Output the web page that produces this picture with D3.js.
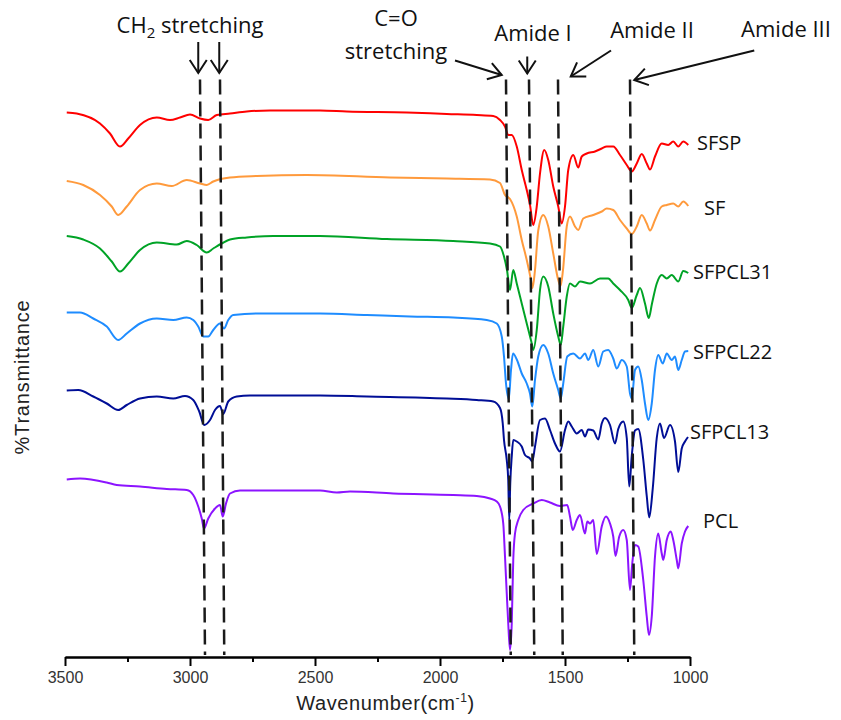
<!DOCTYPE html>
<html><head><meta charset="utf-8">
<script src="https://cdn.jsdelivr.net/npm/d3@7"></script>
<style>body{margin:0;background:#fff}</style>
</head><body><svg id="chart" width="841" height="720"></svg>
<script>
// ---- data: [wavenumber (cm-1), offset %T] ----
const SFSP = [[3493,108.9],[3453,108.7],[3360,106.7],[3320,104.7],[3280,102.1],[3247,103.7],[3200,106.4],[3133,107.9],[3080,107.4],[3040,107.9],[3000,108.5],[2960,107.7],[2927,107.4],[2893,108.4],[2840,108.7],[2773,109.1],[2680,109.3],[2480,109.3],[2373,109.1],[2133,108.9],[1973,108.6],[1853,108.4],[1787,108.2],[1760,107.4],[1740,106.1],[1727,104.4],[1713,104.4],[1693,102.1],[1673,97.4],[1653,93.4],[1640,90.4],[1627,86.4],[1613,90.1],[1600,96.7],[1583,101.4],[1567,99.4],[1547,94.1],[1527,90.1],[1513,86.7],[1500,90.1],[1487,97.4],[1467,100.4],[1447,97.9],[1433,100.1],[1413,100.7],[1380,101.1],[1353,101.7],[1333,102.1],[1307,102.1],[1280,100.4],[1253,98.4],[1233,97.1],[1213,98.7],[1193,100.6],[1173,98.7],[1160,97.5],[1140,100.1],[1113,102.7],[1087,102.4],[1067,103.1],[1047,102.1],[1027,103.1],[1007,102.4]];
const SF = [[3493,95.2],[3427,94.4],[3360,92.4],[3313,90.1],[3287,88.4],[3253,90.1],[3200,93.4],[3133,94.7],[3073,94.2],[3013,95.4],[2960,94.7],[2933,94.4],[2907,95.1],[2840,95.9],[2733,96.2],[2533,96.4],[2200,95.9],[1973,95.7],[1800,95.5],[1760,94.8],[1740,92.4],[1720,91.6],[1693,88.1],[1673,83.4],[1653,79.4],[1636,75.4],[1630,73.8],[1620,77.4],[1607,85.3],[1587,88.4],[1567,86.1],[1547,80.7],[1527,75.4],[1518,74.2],[1508,77.4],[1493,86.1],[1480,88.1],[1460,86.1],[1447,85.4],[1427,87.7],[1387,88.4],[1353,89.1],[1333,89.7],[1307,89.4],[1280,87.4],[1253,85.7],[1233,84.6],[1213,86.1],[1193,88.4],[1173,86.7],[1160,85.3],[1140,87.4],[1113,90.1],[1093,90.4],[1067,90.7],[1047,90.1],[1027,91.1],[1007,90.2]];
const SFPCL31 = [[3493,84.2],[3427,83.5],[3360,81.7],[3313,79.1],[3280,77.1],[3247,78.7],[3200,81.4],[3133,82.9],[3053,82.5],[3013,83.2],[2973,82.4],[2933,80.9],[2907,81.7],[2873,82.7],[2840,83.5],[2773,83.9],[2667,84.2],[2480,84.2],[2213,83.6],[1947,83.2],[1800,82.7],[1760,82.1],[1744,80.1],[1732,77.4],[1720,73.4],[1707,77.4],[1693,74.7],[1673,70.7],[1653,66.7],[1633,62.7],[1627,61.4],[1613,65.4],[1600,73.4],[1587,76.1],[1567,74.1],[1547,68.7],[1527,64.1],[1517,62.4],[1507,66.1],[1493,72.1],[1480,74.7],[1460,74.1],[1440,75.1],[1400,74.7],[1360,75.7],[1327,75.7],[1307,74.7],[1280,73.4],[1247,71.4],[1233,69.8],[1213,72.4],[1200,73.8],[1180,70.7],[1165,67.8],[1152,70.7],[1133,74.7],[1113,76.4],[1093,75.7],[1073,76.4],[1047,75.1],[1027,77.2],[1007,76.8]];
const SFPCL22 = [[3493,68.9],[3440,68.9],[3387,67.7],[3333,66.1],[3287,63.4],[3253,64.7],[3200,66.7],[3133,67.7],[3067,67.4],[3013,67.9],[2987,67.4],[2967,66.1],[2947,64.1],[2927,64.1],[2907,65.4],[2880,66.7],[2864,65.7],[2847,67.4],[2827,68.4],[2733,68.7],[2480,68.7],[2293,68.4],[2120,68.1],[1947,67.9],[1813,67.4],[1773,66.7],[1753,64.1],[1744,60.1],[1736,54.7],[1725,51.6],[1716,57.4],[1708,60.7],[1692,59.4],[1673,56.7],[1653,54.7],[1640,52.7],[1631,50.1],[1620,55.4],[1607,60.1],[1587,62.4],[1567,60.7],[1547,56.7],[1527,53.4],[1517,51.7],[1507,54.7],[1491,60.1],[1467,60.7],[1440,59.7],[1420,60.7],[1407,59.4],[1387,61.4],[1367,58.1],[1347,61.1],[1327,61.4],[1307,59.7],[1293,57.7],[1273,59.4],[1253,58.1],[1240,52.7],[1233,51.7],[1220,57.4],[1207,58.1],[1193,55.4],[1180,50.7],[1167,47.4],[1153,50.7],[1140,57.4],[1127,60.4],[1109,58.7],[1093,60.7],[1073,59.4],[1060,60.1],[1047,57.4],[1033,59.4],[1020,61.1],[1007,61.2]];
const SFPCL13 = [[3493,53.3],[3447,53.4],[3387,52.1],[3333,50.7],[3287,49.4],[3253,50.4],[3200,51.7],[3133,52.1],[3067,51.7],[3020,52.2],[2987,51.4],[2963,49.1],[2943,46.4],[2920,47.4],[2900,49.4],[2880,50.2],[2867,48.6],[2847,51.1],[2813,52.1],[2760,52.3],[2480,52.3],[2293,52.1],[1973,51.7],[1853,51.4],[1787,51.1],[1760,49.8],[1749,46.7],[1744,43.4],[1733,39.4],[1727,35.4],[1723,27.4],[1719,34.7],[1713,40.1],[1707,43.4],[1693,43.1],[1673,42.1],[1660,40.4],[1640,39.7],[1631,39.1],[1620,42.1],[1600,47.4],[1580,47.7],[1560,45.4],[1540,42.7],[1520,41.1],[1500,45.4],[1487,47.1],[1473,46.1],[1453,44.7],[1433,45.4],[1420,44.1],[1407,45.5],[1387,45.3],[1367,43.5],[1353,46.7],[1340,47.8],[1320,46.4],[1300,42.7],[1287,45.6],[1267,47.1],[1253,43.8],[1243,34.1],[1233,40.2],[1220,45.3],[1207,45.6],[1187,39.5],[1173,32.2],[1163,27.9],[1149,33.7],[1133,43.8],[1120,46.7],[1104,43.8],[1080,46.4],[1060,43.1],[1047,37.0],[1033,41.7],[1020,43.1],[1008,44.0]];
const PCL = [[3493,35.5],[3440,35.7],[3333,34.9],[3293,34.4],[3200,34.1],[3093,33.6],[3013,33.4],[2987,32.4],[2967,30.1],[2953,27.7],[2944,25.7],[2927,27.7],[2900,29.7],[2880,30.4],[2869,28.1],[2856,30.7],[2840,32.7],[2800,33.3],[2480,33.3],[2413,32.9],[2360,33.1],[2187,32.7],[1947,32.4],[1853,32.2],[1800,31.7],[1773,31.1],[1760,30.1],[1747,26.7],[1740,20.1],[1733,12.7],[1727,6.7],[1720,1.4],[1713,6.7],[1707,19.4],[1700,24.7],[1687,27.4],[1667,29.4],[1627,30.7],[1593,31.4],[1560,30.9],[1520,30.2],[1491,30.4],[1480,28.1],[1469,25.4],[1453,27.4],[1440,28.4],[1420,24.7],[1411,27.1],[1400,26.7],[1387,27.4],[1373,20.6],[1353,26.1],[1336,28.1],[1320,26.7],[1307,24.1],[1298,20.2],[1283,24.1],[1267,25.4],[1253,23.4],[1240,13.4],[1231,18.7],[1220,22.4],[1207,22.1],[1187,15.4],[1173,8.1],[1164,4.4],[1153,8.1],[1140,20.1],[1127,24.7],[1113,20.7],[1107,19.4],[1093,23.4],[1077,25.1],[1067,23.4],[1053,19.4],[1047,17.7],[1033,22.7],[1020,25.1],[1007,26.2]];

const seriesNames = ["SFSP","SF","SFPCL31","SFPCL22","SFPCL13","PCL"];
const seriesData = [SFSP, SF, SFPCL31, SFPCL22, SFPCL13, PCL];
const seriesColors = ["#ff0000","#ff9a3c","#00a326","#1e8cff","#000e96","#8c14ff"];
const labelWn = [972, 944, 988, 988, 1000, 948];
const labelT = [102.8, 89.8, 77.0, 61.0, 45.0, 27.2];

const majorTicks = [3500,3000,2500,2000,1500,1000];
const minorTicks = [3250,2750,2250,1750,1250];

// marker lines (wavenumber at top, at bottom)
const markerTop = [2960,2880,1736,1644,1528,1240];
const markerBottom = [2940,2863,1717,1623,1509,1223];
const markerSpan = [115.5, 0.4];

// annotation arrows: [wn0, T0, wn1, T1]
const arrows = [[2967,123,2967,116.8],[2883,123,2883,116.8],[1940,119.3,1753,116.4],[1651,120.1,1651,116.7],[1316,121.3,1477,116.1],[743,121.3,1223,115.4]];
const annoText = ["C=O","stretching","Amide I","Amide II","Amide III"];
const annoWn = [2176,2176,1628,1152,616];
const annoT = [126.2,119.7,123.2,123.8,124.0];
const ch2Wn = 3000, ch2T = 124.8;

const svg = d3.select("#chart");
const x = d3.scaleLinear().domain([3500,1000]).range([65,690]);
const y = d3.scaleLinear().domain([0,120]).range([657,57]);

// spectra
const line = d3.line().x(d=>x(d[0])).y(d=>y(d[1])).curve(d3.curveMonotoneX);
svg.append("g").selectAll("path").data(seriesData).join("path")
  .attr("d", line).attr("fill","none")
  .attr("stroke",(d,i)=>seriesColors[i]).attr("stroke-width",2)
  .attr("stroke-linejoin","round");

// series labels
svg.append("g").selectAll("text").data(seriesNames).join("text")
  .attr("x",(d,i)=>x(labelWn[i])).attr("y",(d,i)=>y(labelT[i]))
  .attr("dy","0.36em")
  .style("font-family","'Open Sans', sans-serif").style("font-size","20px").attr("fill","#111")
  .text(d=>d);

// dashed marker lines
svg.append("g").selectAll("line").data(markerTop).join("line")
  .attr("x1",(d)=>x(d)).attr("y1",y(markerSpan[0]))
  .attr("x2",(d,i)=>x(markerBottom[i])).attr("y2",y(markerSpan[1]))
  .attr("stroke","#1a1a1a").attr("stroke-width",2.5).attr("stroke-dasharray","15,7");

// arrows
const defs = svg.append("defs");
defs.append("marker").attr("id","ah").attr("markerUnits","userSpaceOnUse")
  .attr("viewBox","-16 -11 18 22").attr("markerWidth",18).attr("markerHeight",22)
  .attr("refX",0).attr("refY",0).attr("orient","auto")
  .append("path").attr("d","M-13,-8.5L0,0L-13,8.5").attr("fill","none")
  .attr("stroke","#111").attr("stroke-width",2);
svg.append("g").selectAll("line").data(arrows).join("line")
  .attr("x1",d=>x(d[0])).attr("y1",d=>y(d[1])).attr("x2",d=>x(d[2])).attr("y2",d=>y(d[3]))
  .attr("stroke","#111").attr("stroke-width",2).attr("marker-end","url(#ah)");

// annotation text
const annoFont = "'Open Sans', sans-serif";
const annoSize = "22px";
const ch2 = svg.append("text").attr("x",x(ch2Wn)).attr("y",y(ch2T)).attr("text-anchor","middle")
  .style("font-family",annoFont).style("font-size",annoSize).attr("fill","#111");
ch2.append("tspan").text("CH");
ch2.append("tspan").text("2").attr("dy","5").style("font-size","15px");
ch2.append("tspan").text(" stretching").attr("dy","-5");
svg.append("g").selectAll("text").data(annoText).join("text")
  .attr("x",(d,i)=>x(annoWn[i])).attr("y",(d,i)=>y(annoT[i])).attr("text-anchor","middle")
  .style("font-family",annoFont).style("font-size",annoSize).attr("fill","#111").text(d=>d);

// x axis
const gx = svg.append("g").attr("transform",`translate(0,${y(0)})`);
gx.call(d3.axisBottom(x).tickValues(majorTicks).tickSize(9).tickSizeOuter(0).tickPadding(6).tickFormat(d3.format("d")));
gx.append("g").call(d3.axisBottom(x).tickValues(minorTicks).tickSize(5).tickSizeOuter(0).tickFormat(""));
gx.selectAll("path.domain").attr("stroke","#000").attr("stroke-width",2);
gx.selectAll(".tick line").attr("stroke","#000").attr("stroke-width",2);
gx.selectAll(".tick text").style("font-family","'Liberation Sans', Arial, sans-serif").style("font-size","16px").attr("fill","#333");

// axis titles
const titleFont = "'Liberation Sans', Arial, sans-serif";
const xt = svg.append("text").attr("x",(x(3500)+x(1000))/2 + 8).attr("y",710).attr("text-anchor","middle")
  .style("font-family",titleFont).style("font-size","20px").style("letter-spacing","0.6px").attr("fill","#222");
xt.append("tspan").text("Wavenumber(cm");
xt.append("tspan").text("-1").attr("dy","-8").style("font-size","12px");
xt.append("tspan").text(")").attr("dy","8");
svg.append("text").attr("transform","translate(29,377) rotate(-90)").attr("text-anchor","middle")
  .style("font-family",titleFont).style("font-size","20px").style("letter-spacing","0.8px").attr("fill","#222")
  .text("%Transmittance");
</script></body></html>
